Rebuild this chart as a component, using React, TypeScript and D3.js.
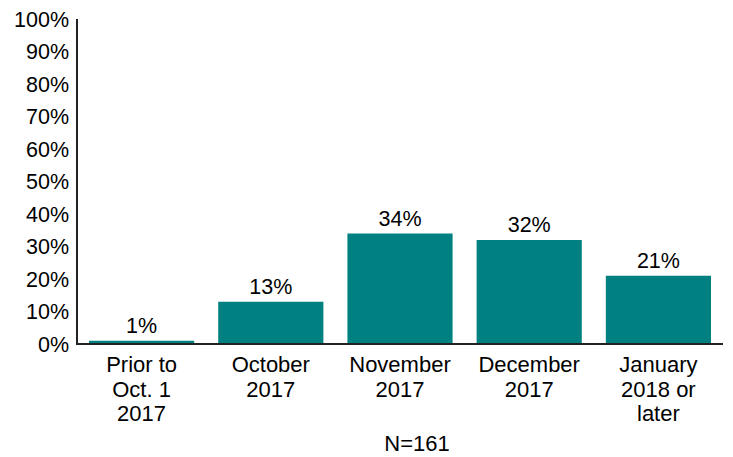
import React from "react";
import * as d3 from "d3";

const categories: string[][] = [
  ["Prior to", "Oct. 1", "2017"],
  ["October", "2017"],
  ["November", "2017"],
  ["December", "2017"],
  ["January", "2018 or", "later"],
];
const values: number[] = [1, 13, 34, 32, 21];
const valueLabels: string[] = ["1%", "13%", "34%", "32%", "21%"];
const yTicks: number[] = [0, 10, 20, 30, 40, 50, 60, 70, 80, 90, 100];
const note = "N=161";

const W = 733;
const H = 457;
const left = 77;
const right = 723;
const top = 19;
const bottom = 344;
const font = "'Liberation Sans', Arial, sans-serif";

export default function App() {
  const x = d3
    .scaleBand<number>()
    .domain(d3.range(values.length))
    .range([left, right])
    .paddingInner(0.186)
    .paddingOuter(0.093);
  const y = d3.scaleLinear().domain([0, 100]).range([bottom, top]);

  return (
    <svg
      width={W}
      height={H}
      style={{ position: "absolute", left: 0, top: 0, background: "#fff" }}
      fontFamily={font}
    >
      {values.map((v, i) => (
        <g key={i}>
          <rect
            x={x(i)}
            y={y(v)}
            width={x.bandwidth()}
            height={bottom - y(v)}
            fill="#008080"
          />
          <text
            x={(x(i) as number) + x.bandwidth() / 2}
            y={y(v) - 8}
            textAnchor="middle"
            fontSize={21.5}
            fill="#000"
          >
            {valueLabels[i]}
          </text>
          {categories[i].map((line, j) => (
            <text
              key={j}
              x={(x(i) as number) + x.bandwidth() / 2}
              y={bottom + 28 + j * 24.5}
              textAnchor="middle"
              fontSize={22}
              fill="#000"
            >
              {line}
            </text>
          ))}
        </g>
      ))}
      {yTicks.map((t) => (
        <text
          key={t}
          x={69}
          y={y(t)}
          dy="0.35em"
          textAnchor="end"
          fontSize={21.5}
          fill="#000"
        >
          {t}%
        </text>
      ))}
      <line x1={left} x2={left} y1={top} y2={bottom + 1} stroke="#222" strokeWidth={2} />
      <line x1={left} x2={right} y1={bottom} y2={bottom} stroke="#222" strokeWidth={2} />
      <text x={417} y={451} textAnchor="middle" fontSize={22} fill="#000">
        {note}
      </text>
    </svg>
  );
}
